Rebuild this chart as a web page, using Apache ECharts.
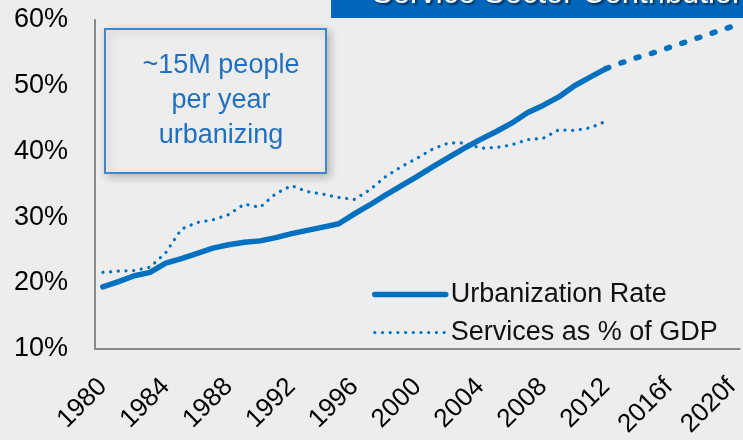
<!DOCTYPE html>
<html>
<head>
<meta charset="utf-8">
<script src="https://cdn.jsdelivr.net/npm/echarts@6/dist/echarts.min.js"></script>
<style>
  html, body { margin: 0; padding: 0; background: #ededed; }
  #chart { width: 743px; height: 440px; }
</style>
</head>
<body>
<div id="chart"></div>
<script>
// Years on the category axis; forecast years carry an "f" suffix
const years = [
  '1980','1981','1982','1983','1984','1985','1986','1987','1988','1989',
  '1990','1991','1992','1993','1994','1995','1996','1997','1998','1999',
  '2000','2001','2002','2003','2004','2005','2006','2007','2008','2009',
  '2010','2011','2012',
  '2013f','2014f','2015f','2016f','2017f','2018f','2019f','2020f'
];

// Urban share of population, % (1980-2012)
const urbanizationRate = [
  19.4, 20.2, 21.1, 21.6, 23.0, 23.7, 24.5, 25.3, 25.8, 26.2,
  26.4, 26.9, 27.5, 28.0, 28.5, 29.0, 30.5, 31.9, 33.4, 34.8,
  36.2, 37.7, 39.1, 40.5, 41.8, 43.0, 44.3, 45.9, 47.0, 48.3,
  50.0, 51.3, 52.6
];

// Projected urban share, % (2012 anchor, then 2013f-2020f)
const urbanizationForecast = [52.6, 53.5, 54.3, 55.0, 55.8, 56.6, 57.4, 58.2, 59.0];

// Services value added as % of GDP (1980-2012)
const servicesShare = [
  21.6, 21.8, 21.9, 22.4, 24.6, 28.2, 29.2, 29.6, 30.4, 32.0,
  31.5, 33.6, 34.8, 33.9, 33.5, 33.0, 32.7, 34.2, 36.2, 37.7,
  39.0, 40.4, 41.3, 41.3, 40.5, 40.6, 41.0, 41.8, 42.0, 43.3,
  43.2, 43.6, 44.6
];

const yTicks = { min: 10, max: 60, step: 10 };

const FONT = '"Liberation Sans", Arial, sans-serif';
const BLUE = '#0070c0';

const solidStyle = { color: BLUE, width: 5.5, cap: 'round', join: 'round' };
const dottedStyle = { color: BLUE, width: 3.2, type: [0.1, 7.6], cap: 'round' };
const forecastStyle = { color: BLUE, width: 5.5, type: [3, 13], cap: 'round' };

const nHist = urbanizationRate.length;
const forecastSeries = years.map((_, i) =>
  i < nHist - 1 ? null : urbanizationForecast[i - (nHist - 1)]
);

const chart = echarts.init(document.getElementById('chart'), null, { renderer: 'canvas' });

chart.setOption({
  backgroundColor: '#ededed',
  animation: false,
  textStyle: { fontFamily: FONT },
  grid: { left: 95, right: 0, top: 20, bottom: 89, containLabel: false },
  xAxis: {
    type: 'category',
    data: years,
    boundaryGap: true,
    axisLine: { lineStyle: { color: '#8a8a8a', width: 2 } },
    axisTick: { show: false },
    axisLabel: {
      interval: 3,
      rotate: 45,
      margin: 34,
      fontSize: 26,
      color: '#000',
      fontFamily: FONT
    },
    splitLine: { show: false }
  },
  yAxis: {
    type: 'value',
    min: yTicks.min,
    max: yTicks.max,
    interval: yTicks.step,
    axisLine: { show: true, lineStyle: { color: '#8a8a8a', width: 2 } },
    axisTick: { show: false },
    splitLine: { show: false },
    axisLabel: {
      formatter: '{value}%',
      fontSize: 27,
      margin: 27,
      padding: [8, 0, 0, 0],
      color: '#000',
      fontFamily: FONT
    }
  },
  legend: {
    data: [
      { name: 'Urbanization Rate', itemStyle: { opacity: 0 }, lineStyle: solidStyle },
      { name: 'Services as % of GDP', itemStyle: { opacity: 0 }, lineStyle: dottedStyle }
    ],
    orient: 'vertical',
    left: 372,
    top: 281,
    padding: 0,
    itemWidth: 71,
    itemHeight: 26,
    itemGap: 11,
    textStyle: { fontSize: 27, color: '#111', fontFamily: FONT },
    selectedMode: false
  },
  series: [
    {
      name: 'Urbanization Rate',
      type: 'line',
      data: urbanizationRate,
      symbol: 'none',
      lineStyle: solidStyle,
      itemStyle: { color: BLUE },
      z: 3
    },
    {
      name: 'Services as % of GDP',
      type: 'line',
      data: servicesShare,
      symbol: 'none',
      lineStyle: dottedStyle,
      itemStyle: { color: BLUE },
      z: 2
    },
    {
      name: 'Urbanization Forecast',
      type: 'line',
      data: forecastSeries,
      symbol: 'none',
      lineStyle: forecastStyle,
      itemStyle: { color: BLUE },
      z: 3
    }
  ],
  graphic: [
    {
      type: 'rect',
      shape: { x: 331, y: 0, width: 412, height: 18 },
      style: { fill: '#0066bb' },
      z: 10
    },
    {
      type: 'text',
      x: 372,
      y: -6,
      style: {
        text: 'Service Sector Contribution',
        fill: '#ffffff',
        font: '31px ' + FONT,
        verticalAlign: 'middle',
        textShadowColor: 'rgba(0,0,0,0.55)',
        textShadowOffsetX: 2,
        textShadowOffsetY: 2,
        textShadowBlur: 2
      },
      z: 11
    },
    {
      type: 'rect',
      shape: { x: 105, y: 29, width: 221, height: 144 },
      style: {
        fill: '#ededed',
        stroke: '#3f86cc',
        lineWidth: 2,
        shadowBlur: 8,
        shadowColor: 'rgba(0,0,0,0.22)',
        shadowOffsetX: 3,
        shadowOffsetY: 3
      },
      z: 10
    },
    {
      type: 'text',
      x: 221,
      y: 101,
      style: {
        text: '~15M people\nper year\nurbanizing',
        fill: '#1f70c1',
        font: '27px ' + FONT,
        lineHeight: 35,
        align: 'center',
        verticalAlign: 'middle'
      },
      z: 11
    }
  ]
});
</script>
</body>
</html>
